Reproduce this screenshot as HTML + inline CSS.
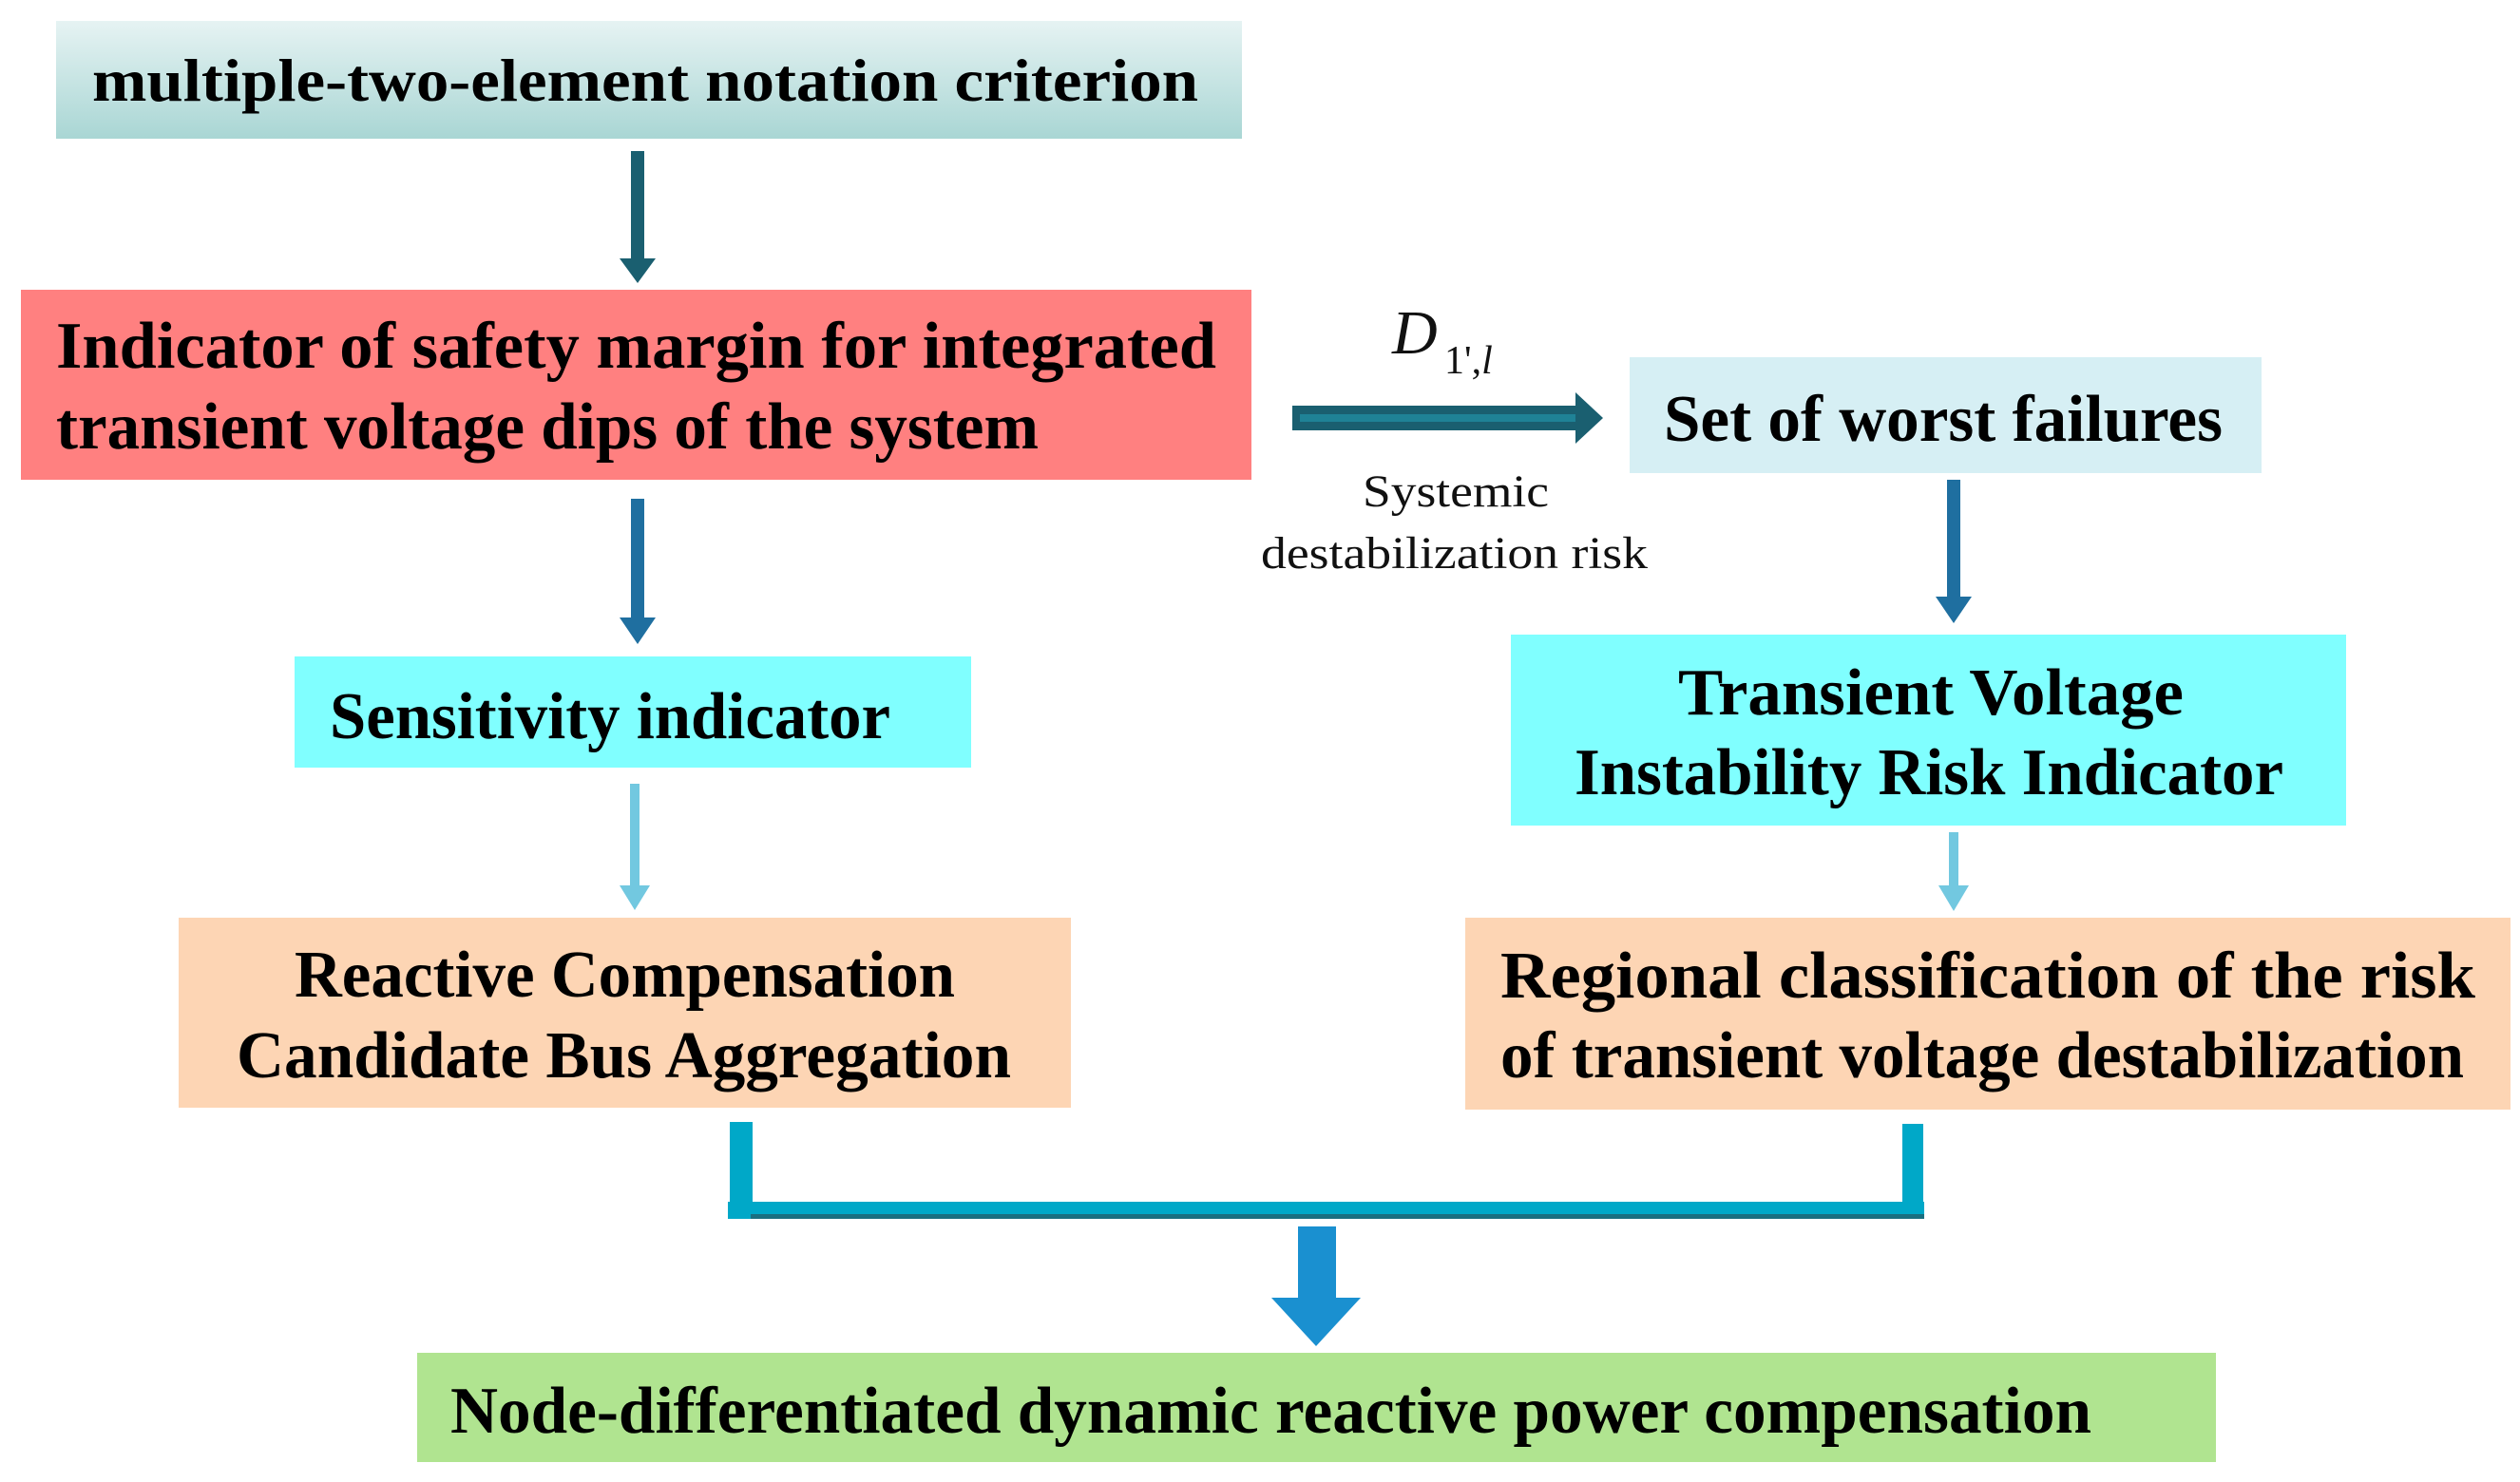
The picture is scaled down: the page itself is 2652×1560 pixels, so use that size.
<!DOCTYPE html>
<html><head><meta charset="utf-8"><style>
html,body{margin:0;padding:0;background:#fff;}
svg{display:block;}
.b{font-family:"Liberation Serif",serif;font-weight:bold;fill:#000;}
.r{font-family:"Liberation Serif",serif;fill:#111;}
</style></head><body>
<svg width="2652" height="1560" viewBox="0 0 2652 1560" xmlns="http://www.w3.org/2000/svg">
<defs>
<linearGradient id="g1" x1="0" y1="0" x2="0" y2="1">
<stop offset="0" stop-color="#e6f3f3"/><stop offset="1" stop-color="#a9d6d4"/>
</linearGradient>
</defs>
<rect x="59" y="22" width="1248" height="124" fill="url(#g1)"/>
<text class="b" x="97" y="106" font-size="64" textLength="1164" lengthAdjust="spacingAndGlyphs">multiple-two-element notation criterion</text>
<rect x="664" y="159" width="14" height="120" fill="#1a5f70"/>
<polygon points="652,272 690,272 671,298" fill="#1a5f70"/>
<rect x="22" y="305" width="1295" height="200" fill="#ff8080"/>
<text class="b" x="59" y="387" font-size="70" textLength="1221" lengthAdjust="spacingAndGlyphs">Indicator of safety margin for integrated</text>
<text class="b" x="59" y="472" font-size="70" textLength="1034" lengthAdjust="spacingAndGlyphs">transient voltage dips of the system</text>
<rect x="664" y="525" width="14" height="130" fill="#1f6fa0"/>
<polygon points="652,650 690,650 671,678" fill="#1f6fa0"/>
<rect x="310" y="691" width="712" height="117" fill="#80ffff"/>
<text class="b" x="347" y="777" font-size="70" textLength="590" lengthAdjust="spacingAndGlyphs">Sensitivity indicator</text>
<rect x="663" y="825" width="10" height="112" fill="#72c8e0"/>
<polygon points="652,932 684,932 668,958" fill="#72c8e0"/>
<rect x="188" y="966" width="939" height="200" fill="#fdd5b4"/>
<text class="b" x="310" y="1049" font-size="70" textLength="695" lengthAdjust="spacingAndGlyphs">Reactive Compensation</text>
<text class="b" x="249" y="1134" font-size="70" textLength="815" lengthAdjust="spacingAndGlyphs">Candidate Bus Aggregation</text>
<rect x="1360" y="427" width="300" height="26" fill="#1a5f70"/>
<rect x="1368" y="436" width="290" height="8" fill="#1f8296"/>
<polygon points="1658,413 1687,440 1658,467" fill="#1a5f70"/>
<text class="r" x="1465" y="372" font-size="66" font-style="italic">D</text>
<text class="r" x="1520" y="393" font-size="42">1',<tspan font-style="italic">l</tspan></text>
<text class="r" x="1434" y="533" font-size="48" textLength="196" lengthAdjust="spacingAndGlyphs">Systemic</text>
<text class="r" x="1327" y="598" font-size="48" textLength="407" lengthAdjust="spacingAndGlyphs">destabilization risk</text>
<rect x="1715" y="376" width="665" height="122" fill="#d6eff4"/>
<text class="b" x="1751" y="464" font-size="70" textLength="588" lengthAdjust="spacingAndGlyphs">Set of worst failures</text>
<rect x="2049" y="505" width="14" height="128" fill="#1f6fa0"/>
<polygon points="2037,628 2075,628 2056,656" fill="#1f6fa0"/>
<rect x="1590" y="668" width="879" height="201" fill="#80ffff"/>
<text class="b" x="1766" y="752" font-size="70" textLength="532" lengthAdjust="spacingAndGlyphs">Transient Voltage</text>
<text class="b" x="1657" y="836" font-size="70" textLength="746" lengthAdjust="spacingAndGlyphs">Instability Risk Indicator</text>
<rect x="2051" y="876" width="10" height="60" fill="#72c8e0"/>
<polygon points="2040,932 2072,932 2056,959" fill="#72c8e0"/>
<rect x="1542" y="966" width="1100" height="202" fill="#fdd5b4"/>
<text class="b" x="1579" y="1050" font-size="70" textLength="1026" lengthAdjust="spacingAndGlyphs">Regional classification of the risk</text>
<text class="b" x="1579" y="1134" font-size="70" textLength="1014" lengthAdjust="spacingAndGlyphs">of transient voltage destabilization</text>
<rect x="768" y="1181" width="24" height="100" fill="#00a8c8"/>
<rect x="2002" y="1183" width="22" height="100" fill="#00a8c8"/>
<rect x="766" y="1265" width="1259" height="18" fill="#00a8c8"/>
<rect x="790" y="1278" width="1235" height="5" fill="#1a6f80"/>
<rect x="1366" y="1291" width="40" height="80" fill="#1a90d0"/>
<polygon points="1338,1366 1432,1366 1385,1417" fill="#1a90d0"/>
<rect x="439" y="1424" width="1893" height="115" fill="#b0e490"/>
<text class="b" x="474" y="1508" font-size="70" textLength="1727" lengthAdjust="spacingAndGlyphs">Node-differentiated dynamic reactive power compensation</text>
</svg>
</body></html>
